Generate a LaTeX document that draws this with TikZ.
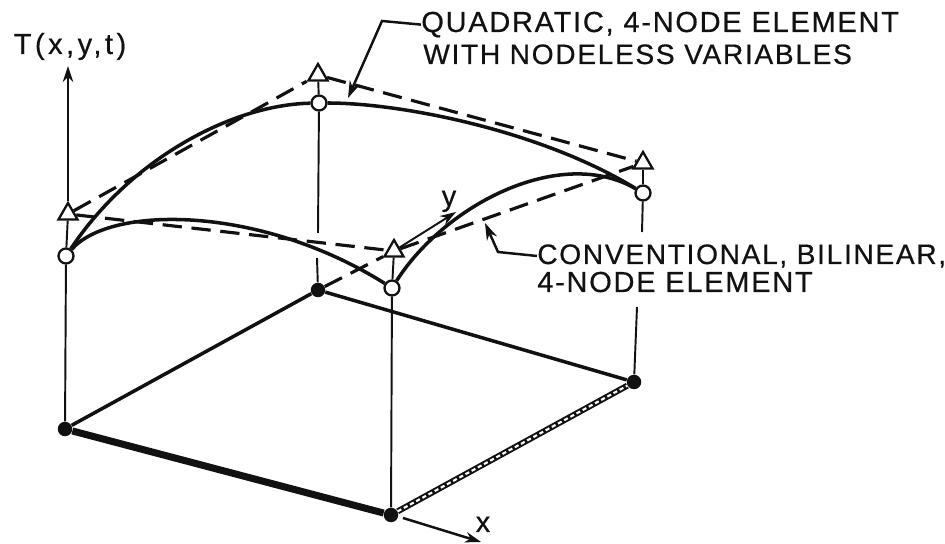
\documentclass[tikz,border=0pt]{standalone}
\usepackage{fontspec}
\usepackage{xcolor}
\usepackage{tikz}
\usetikzlibrary{arrows.meta,shapes.geometric}
\newfontfamily\lblfont[LetterSpace=6,FakeBold=0.5]{Liberation Sans}
\newfontfamily\axisfont[LetterSpace=12,FakeBold=0.5]{Liberation Sans}
\definecolor{ink}{HTML}{111111}
\tikzset{
  opennode/.style={circle,draw=ink,fill=white,line width=1.3pt,
                   minimum size=3mm,inner sep=0pt},
  dofnode/.style={regular polygon,regular polygon sides=3,draw=ink,fill=white,
                  line width=1.3pt,minimum size=4.4mm,inner sep=0pt},
  basenode/.style={circle,fill=ink,minimum size=2.9mm,inner sep=0pt},
  lbl/.style={font=\lblfont\fontsize{16.5}{18}\selectfont,ink,anchor=base west,
              inner sep=0pt},
  lblnarrow/.style={lbl,font=\lblfont\fontsize{16}{18}\selectfont},
  axislbl/.style={font=\axisfont\fontsize{16.5}{18}\selectfont,ink,anchor=base,
                  inner sep=0pt},
  stem/.style={ink,line width=1.1pt},
  curvequad/.style={ink,line width=2pt},
  bilin/.style={ink,line width=1.8pt,dash pattern=on 11pt off 5.5pt},
  edgemid/.style={ink,line width=2pt},
  edgebold/.style={ink,line width=4pt},
  edgehatch/.style={ink,line width=3.4pt,
                    postaction={draw=white,line width=1.2pt,
                                dash pattern=on 2.4pt off 1.6pt}},
  arrowaxis/.style={-{Stealth[length=3.2mm,width=2.1mm]},ink,line width=1.1pt},
  arrowlead/.style={-{Stealth[length=3.4mm,width=2.2mm]},ink,line width=1.4pt},
}
\begin{document}
\begin{tikzpicture}[x=0.2mm,y=-0.2mm]
  \useasboundingbox(0,0)rectangle(945,544);

  % Base corners
  \node[basenode](baseL)at(65,429){};
  \node[basenode](baseB)at(318,290){};
  \node[basenode](baseF)at(391,515){};
  \node[basenode](baseR)at(634,382){};

  % Nodal values, circles on the curved surface, triangles on the bilinear one
  \node[opennode](valL)at(66,256){};
  \node[opennode](valB)at(319,103){};
  \node[opennode](valF)at(392,288){};
  \node[opennode](valR)at(643,193){};
  \node[dofnode](triL)at(68,214){};
  \node[dofnode](triB)at(318,75){};
  \node[dofnode](triF)at(394,251){};
  \node[dofnode](triR)at(643,163){};

  % Free ends of the stems and axes
  \coordinate(axisT)at(68,66);
  \coordinate(gapBa)at(318,233);
  \coordinate(gapBb)at(317,258);
  \coordinate(gapRa)at(642,232);
  \coordinate(gapRb)at(637,307);
  \coordinate(tipY)at(456,212);
  \coordinate(tailX)at(403,518);
  \coordinate(tipX)at(481,542);

  % Base plate
  \draw[edgemid](baseL)--(baseB);
  \draw[edgemid](baseB)--(baseR);
  \draw[edgebold](baseL)--(baseF);
  \draw[edgehatch](baseF)--(baseR);

  % Stems
  \foreach \a/\b in {triL/valL,triB/valB,triF/valF,triR/valR,valL/baseL,
                     valF/baseF,valB/gapBa,gapBb/baseB,valR/gapRa,gapRb/baseR}{
    \draw[stem](\a)--(\b);
  }

  % Axes
  \draw[arrowaxis](triL)--(axisT);
  \draw[arrowaxis](triF)--(tipY);
  \draw[arrowaxis,line width=1.4pt](tailX)--(tipX);
  \node[axislbl](lblT)at(70,54){T(x,y,t)};
  \node[axislbl](lblY)at(449,206){y};
  \node[axislbl](lblX)at(483,532){x};

  % Bilinear surface, dashed
  \foreach \a/\b in {triL/triB,triB/triR,triL/triF,triF/triR,baseB/triF}{
    \draw[bilin](\a)--(\b);
  }

  % Quadratic surface
  \draw[curvequad](valL) .. controls (130,160) and (230,105) .. (valB);
  \draw[curvequad](valB) .. controls (400,103) and (540,130) .. (valR);
  \draw[curvequad](valL) .. controls (110,205) and (260,205) .. (valF);
  \draw[curvequad](valF) .. controls (445,205) and (560,145) .. (valR);

  % Callouts
  \node[lbl](quadA)at(421,32){QUADRATIC, 4-NODE ELEMENT};
  \node[lblnarrow](quadB)at(423,64){WITH NODELESS VARIABLES};
  \node[lblnarrow](convA)at(537,264){CONVENTIONAL, BILINEAR,};
  \node[lbl](convB)at(537,292){4-NODE ELEMENT};
  \coordinate(kneeQ)at(382,21);
  \coordinate(tipQ)at(348,98);
  \coordinate(kneeC)at(498,252);
  \coordinate(tipC)at(485,223);
  \draw[arrowlead](quadA.west)--(kneeQ)--(tipQ);
  \draw[arrowlead](convA.west)--(kneeC)--(tipC);
\end{tikzpicture}
\end{document}
